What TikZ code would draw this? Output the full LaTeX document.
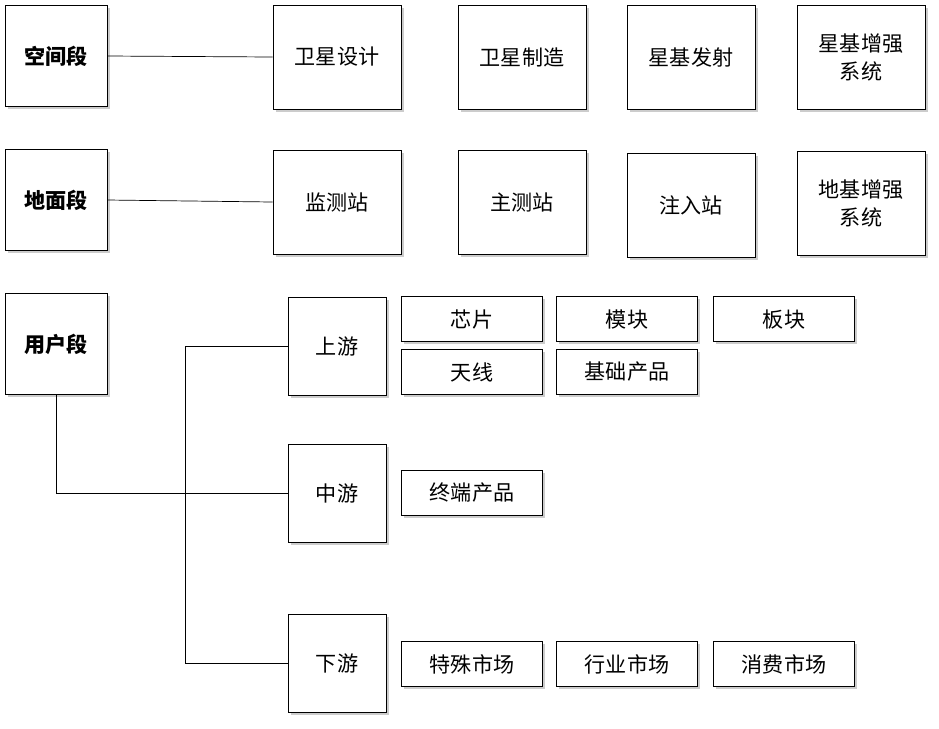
\documentclass[tikz,border=0pt]{standalone}
\usepackage{fontspec}
\setmainfont{Noto Sans CJK SC}
\usetikzlibrary{shadows}
\newcommand\pxu{0.02cm}
\tikzset{box/.style={draw=black, fill=white, drop shadow={shadow xshift=1.5pt, shadow yshift=-1.5pt, opacity=0.4}, align=center, font=\fontsize{12}{16}\selectfont},
  seg/.style={box, minimum width=102*\pxu, minimum height=101*\pxu, font=\fontsize{12}{16}\selectfont\bfseries},
  big/.style={box, minimum width=128*\pxu, minimum height=104*\pxu},
  mid/.style={box, minimum width=98*\pxu, minimum height=98*\pxu},
  small/.style={box, minimum width=141*\pxu, minimum height=45*\pxu}}
\begin{document}
\begin{tikzpicture}[x=0.02cm, y=-0.02cm]
  \useasboundingbox (0,0) rectangle (939,728);
  % space segment
  \node[seg] (space) at (56,56) {空间段};
  \node[big] (sat1) at (337,57) {卫星设计};
  \node[big] (sat2) at (522,57) {卫星制造};
  \node[big] (sat3) at (691,57) {星基发射};
  \node[big] (sat4) at (861,57) {星基增强\\系统};
  % ground segment
  \node[seg] (ground) at (56,200) {地面段};
  \node[big] (gnd1) at (337,202) {监测站};
  \node[big] (gnd2) at (522,202) {主测站};
  \node[big] (gnd3) at (691,205) {注入站};
  \node[big] (gnd4) at (861,203) {地基增强\\系统};
  % user segment
  \node[seg] (user) at (56,344) {用户段};
  \node[mid] (up) at (337,346) {上游};
  \node[mid] (midstream) at (337,493) {中游};
  \node[mid] (down) at (337,663) {下游};
  \node[small] (chip) at (472,319) {芯片};
  \node[small] (module) at (627,319) {模块};
  \node[small] (board) at (784,319) {板块};
  \node[small] (antenna) at (472,372) {天线};
  \node[small] (basic) at (627,372) {基础产品};
  \node[small] (terminal) at (472,493) {终端产品};
  \node[small] (special) at (472,664) {特殊市场};
  \node[small] (industry) at (627,664) {行业市场};
  \node[small] (consumer) at (784,664) {消费市场};

  \coordinate (split) at (185,346);
  \draw (space.east) -- (sat1.west);
  \draw (ground.east) -- (gnd1.west);
  \draw (user.south) |- (midstream.west);
  \draw (up.west) -- (split) |- (down.west);
\end{tikzpicture}
\end{document}
